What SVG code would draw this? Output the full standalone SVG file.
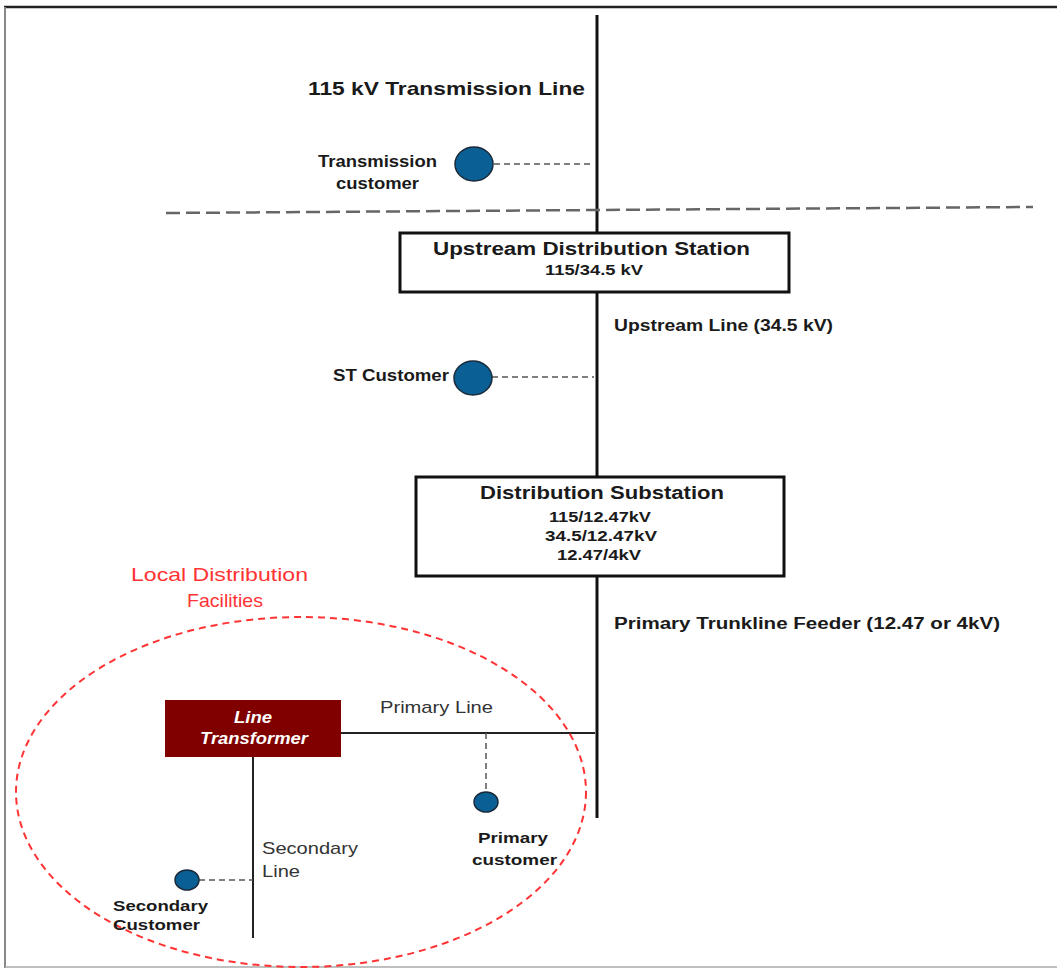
<svg xmlns="http://www.w3.org/2000/svg" width="1057" height="969" viewBox="0 0 1057 969">
<style>
.b{font-family:"Liberation Sans",Arial,sans-serif;font-weight:bold;fill:#1a1a1a}
.n{font-family:"Liberation Sans",Arial,sans-serif;fill:#333}
.red{font-family:"Liberation Sans",Arial,sans-serif;fill:#ff3333}
.w{font-family:"Liberation Sans",Arial,sans-serif;font-weight:bold;font-style:italic;fill:#fff}
.box{fill:#fff;stroke:#111;stroke-width:3}
.cust{fill:#0a5f94;stroke:#1a2a3a;stroke-width:1.5}
.tap{stroke:#555;stroke-width:1.5;stroke-dasharray:6 4;fill:none}
.main{stroke:#111;stroke-width:3;fill:none}
.thin{stroke:#222;stroke-width:2;fill:none}
</style>
<rect x="0" y="0" width="1057" height="969" fill="#fff"/>
<g id="frame">
<line x1="4" y1="7" x2="1057" y2="7" stroke="#222" stroke-width="2.5"/>
<line x1="5" y1="7" x2="5" y2="968" stroke="#888" stroke-width="2"/>
<line x1="5" y1="967" x2="1057" y2="967" stroke="#aaa" stroke-width="1.5"/>
</g>
<g id="connectors">
<line class="main" x1="597" y1="15" x2="597" y2="233"/>
<line class="main" x1="597" y1="292" x2="597" y2="477"/>
<line class="main" x1="597" y1="576" x2="597" y2="818"/>
<line x1="166" y1="213" x2="1033" y2="207" stroke="#666" stroke-width="2.5" stroke-dasharray="14 6"/>
<line class="tap" x1="494" y1="164" x2="594" y2="164"/>
<line class="tap" x1="492" y1="377" x2="594" y2="377"/>
<line class="thin" x1="341" y1="733" x2="595" y2="733"/>
<line class="tap" x1="486" y1="733" x2="486" y2="792"/>
<line class="thin" x1="253" y1="757" x2="253" y2="938"/>
<line class="tap" x1="199" y1="880" x2="253" y2="880"/>
</g>
<g id="title">
<text class="b" x="308" y="95" font-size="19" textLength="277" lengthAdjust="spacingAndGlyphs">115 kV Transmission Line</text>
</g>
<g id="transmission-customer">
<ellipse class="cust" cx="474" cy="164" rx="19" ry="17"/>
<text class="b" x="318" y="167" font-size="16" textLength="119" lengthAdjust="spacingAndGlyphs">Transmission</text>
<text class="b" x="336" y="189" font-size="16" textLength="83" lengthAdjust="spacingAndGlyphs">customer</text>
</g>
<g id="upstream-station">
<rect class="box" x="400" y="233" width="389" height="59"/>
<text class="b" x="433" y="255" font-size="18" textLength="317" lengthAdjust="spacingAndGlyphs">Upstream Distribution Station</text>
<text class="b" x="545" y="275" font-size="15" textLength="98" lengthAdjust="spacingAndGlyphs">115/34.5 kV</text>
</g>
<g id="upstream-line-label">
<text class="b" x="614" y="331" font-size="16" textLength="219" lengthAdjust="spacingAndGlyphs">Upstream Line (34.5 kV)</text>
</g>
<g id="st-customer">
<ellipse class="cust" cx="473" cy="378" rx="19" ry="17"/>
<text class="b" x="333" y="381" font-size="16" textLength="116" lengthAdjust="spacingAndGlyphs">ST Customer</text>
</g>
<g id="distribution-substation">
<rect class="box" x="416" y="477" width="368" height="99"/>
<text class="b" x="480" y="499" font-size="18" textLength="244" lengthAdjust="spacingAndGlyphs">Distribution Substation</text>
<text class="b" x="549" y="522" font-size="15" textLength="102" lengthAdjust="spacingAndGlyphs">115/12.47kV</text>
<text class="b" x="545" y="541" font-size="15" textLength="112" lengthAdjust="spacingAndGlyphs">34.5/12.47kV</text>
<text class="b" x="557" y="560" font-size="15" textLength="84" lengthAdjust="spacingAndGlyphs">12.47/4kV</text>
</g>
<g id="feeder-label">
<text class="b" x="614" y="629" font-size="16" textLength="386" lengthAdjust="spacingAndGlyphs">Primary Trunkline Feeder (12.47 or 4kV)</text>
</g>
<g id="local-distribution">
<ellipse cx="301" cy="792" rx="285" ry="175" fill="none" stroke="#ff3333" stroke-width="2" stroke-dasharray="7 5"/>
<text class="red" x="131" y="581" font-size="19" textLength="177" lengthAdjust="spacingAndGlyphs">Local Distribution</text>
<text class="red" x="187" y="607" font-size="19" textLength="76" lengthAdjust="spacingAndGlyphs">Facilities</text>
</g>
<g id="line-transformer">
<rect x="165" y="700" width="176" height="57" fill="#800000"/>
<text class="w" x="234" y="723" font-size="16" textLength="38" lengthAdjust="spacingAndGlyphs">Line</text>
<text class="w" x="200" y="744" font-size="16" textLength="108" lengthAdjust="spacingAndGlyphs">Transformer</text>
</g>
<g id="primary-line-label">
<text class="n" x="380" y="713" font-size="17" textLength="113" lengthAdjust="spacingAndGlyphs">Primary Line</text>
</g>
<g id="primary-customer">
<ellipse class="cust" cx="486" cy="802" rx="12" ry="10"/>
<text class="b" x="478" y="843" font-size="15" textLength="70" lengthAdjust="spacingAndGlyphs">Primary</text>
<text class="b" x="472" y="865" font-size="15" textLength="85" lengthAdjust="spacingAndGlyphs">customer</text>
</g>
<g id="secondary-line-label">
<text class="n" x="262" y="854" font-size="17" textLength="96" lengthAdjust="spacingAndGlyphs">Secondary</text>
<text class="n" x="262" y="877" font-size="17" textLength="38" lengthAdjust="spacingAndGlyphs">Line</text>
</g>
<g id="secondary-customer">
<ellipse class="cust" cx="187" cy="880" rx="12" ry="10"/>
<text class="b" x="113" y="911" font-size="15" textLength="95" lengthAdjust="spacingAndGlyphs">Secondary</text>
<text class="b" x="113" y="930" font-size="15" textLength="87" lengthAdjust="spacingAndGlyphs">Customer</text>
</g>
</svg>
